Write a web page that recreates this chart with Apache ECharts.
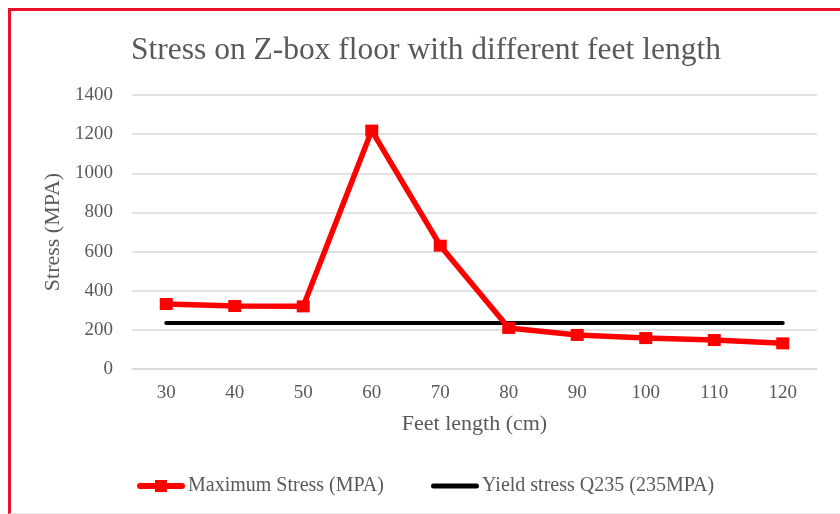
<!DOCTYPE html>
<html>
<head>
<meta charset="utf-8">
<script src="https://cdn.jsdelivr.net/npm/echarts@6/dist/echarts.min.js"></script>
<style>
  html, body { margin: 0; padding: 0; background: #ffffff; }
  #frame {
    position: absolute; left: 8px; top: 8px; width: 832px; height: 502px;
    border-top: 3px solid #e8102a; border-left: 3px solid #e8102a;
    border-bottom: 1px solid #ececec;
  }
  #chart { position: absolute; left: 0; top: 0; width: 840px; height: 514px; }
</style>
</head>
<body>
<div id="frame"></div>
<div id="chart"></div>
<script>
// Feet length categories (cm)
const feetLength = ['30', '40', '50', '60', '70', '80', '90', '100', '110', '120'];
// Maximum stress on the Z-box floor for each feet length (MPa)
const maxStress = [332, 322, 320, 1218, 630, 210, 174, 158, 148, 131];
// Q235 yield stress reference (MPa)
const yieldStress = [235, 235, 235, 235, 235, 235, 235, 235, 235, 235];
// Stress axis ticks
const yTicks = [0, 200, 400, 600, 800, 1000, 1200, 1400];

const serif = '"Liberation Serif", "Times New Roman", serif';
const textColor = '#595959';

// Legend glyphs: thick line with a square marker, and a plain rounded bar
const redIcon = 'path://M3,3 L45,3 A3,3 0 0 1 45,9 L3,9 A3,3 0 0 1 3,3 Z M18,0 L30,0 L30,12 L18,12 Z';
const blackIcon = 'path://M2.5,0 L45.5,0 A2.5,2.5 0 0 1 45.5,5 L2.5,5 A2.5,2.5 0 0 1 2.5,0 Z';

const chart = echarts.init(document.getElementById('chart'), null, { renderer: 'canvas' });
chart.setOption({
  backgroundColor: 'transparent',
  animation: false,
  title: {
    text: 'Stress on Z-box floor with different feet length',
    left: 126,
    top: 30,
    textStyle: { fontFamily: serif, fontSize: 31.5, fontWeight: 'normal', color: textColor }
  },
  legend: [
    {
      data: [{ name: 'Maximum Stress (MPA)', icon: redIcon }],
      left: 132, top: 471,
      itemWidth: 48, itemHeight: 12,
      itemStyle: { color: '#ff0000' },
      textStyle: { fontFamily: serif, fontSize: 20, color: textColor, padding: [0, 0, 0, -2] }
    },
    {
      data: [{ name: 'Yield stress Q235 (235MPA)', icon: blackIcon }],
      left: 426, top: 471,
      itemWidth: 48, itemHeight: 5,
      itemStyle: { color: '#000000' },
      textStyle: { fontFamily: serif, fontSize: 20, color: textColor, padding: [0, 0, 0, -2] }
    }
  ],
  grid: { left: 132, right: 23, top: 95, bottom: 145, containLabel: false },
  xAxis: {
    type: 'category',
    data: feetLength,
    boundaryGap: true,
    name: 'Feet length (cm)',
    nameLocation: 'middle',
    nameGap: 44,
    nameTextStyle: { fontFamily: serif, fontSize: 22, color: textColor },
    axisLine: { show: true, lineStyle: { color: '#d9d9d9', width: 1.5 } },
    axisTick: { show: false },
    axisLabel: { fontFamily: serif, fontSize: 19, color: textColor, margin: 15 }
  },
  yAxis: {
    type: 'value',
    min: yTicks[0],
    max: yTicks[yTicks.length - 1],
    interval: 200,
    name: 'Stress (MPA)',
    nameLocation: 'middle',
    nameGap: 64,
    nameTextStyle: { fontFamily: serif, fontSize: 22, color: textColor },
    axisLine: { show: false },
    axisTick: { show: false },
    axisLabel: {
      fontFamily: serif, fontSize: 19, color: textColor, margin: 19,
      formatter: (v) => String(v)
    },
    splitLine: { lineStyle: { color: '#d9d9d9', width: 1.5 } }
  },
  series: [
    {
      name: 'Maximum Stress (MPA)',
      type: 'line',
      data: maxStress,
      symbol: 'rect',
      symbolSize: [13, 12],
      lineStyle: { color: '#ff0000', width: 5.5 },
      itemStyle: { color: '#ff0000' },
      z: 3
    },
    {
      name: 'Yield stress Q235 (235MPA)',
      type: 'line',
      data: yieldStress,
      symbol: 'none',
      lineStyle: { color: '#000000', width: 4, cap: 'round' },
      itemStyle: { color: '#000000' },
      z: 2
    }
  ]
});
</script>
</body>
</html>
